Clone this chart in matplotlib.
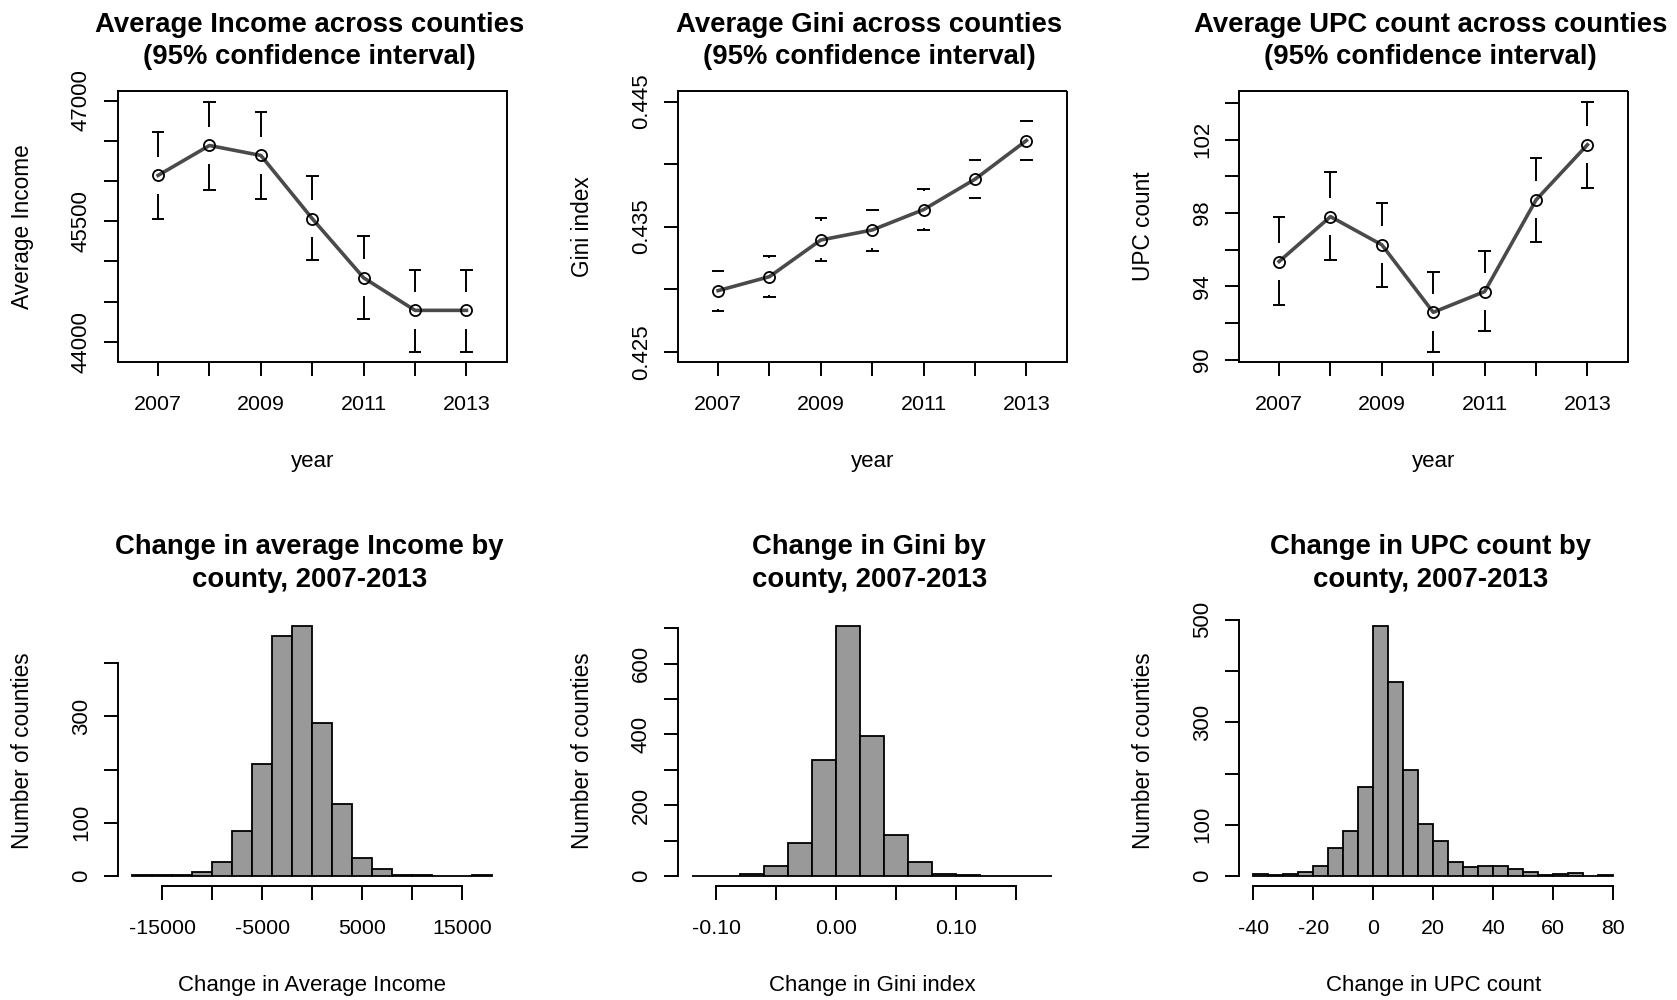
import numpy as np
import matplotlib
matplotlib.use("Agg")
import matplotlib.pyplot as plt
from matplotlib.ticker import FixedLocator, FixedFormatter

plt.rcParams['font.family'] = ['Liberation Sans', 'DejaVu Sans']

# ---------------- data ----------------
years = [2007, 2008, 2009, 2010, 2011, 2012, 2013]

income_mean = [46069, 46441, 46317, 45531, 44795, 44390, 44390]
income_lo = [45523, 45891, 45779, 45014, 44281, 43876, 43876]
income_hi = [46607, 46988, 46863, 46057, 45316, 44898, 44898]

gini_mean = [0.42988, 0.43100, 0.43393, 0.43473, 0.43636, 0.43879, 0.44188]
gini_lo = [0.42823, 0.42935, 0.43228, 0.43308, 0.43476, 0.43727, 0.44036]
gini_hi = [0.43148, 0.43263, 0.43567, 0.43636, 0.43801, 0.44036, 0.44348]

upc_mean = [95.36, 97.81, 96.27, 92.59, 93.72, 98.72, 101.73]
upc_lo = [93.01, 95.45, 93.99, 90.44, 91.56, 96.43, 99.38]
upc_hi = [97.78, 100.23, 98.54, 94.81, 95.94, 101.02, 104.09]

income_edges = list(range(-18000, 18001, 2000))
income_counts = [1, 1, 1, 7, 27, 85, 210, 452, 470, 288, 135, 34, 13, 1, 1, 0, 0, 1]

gini_edges = [-0.12, -0.10, -0.08, -0.06, -0.04, -0.02, 0.00, 0.02, 0.04,
              0.06, 0.08, 0.10, 0.12, 0.14, 0.16, 0.18]
gini_counts = [1, 0, 5, 29, 94, 328, 706, 396, 116, 39, 5, 3, 0, 0, 1]

upc_edges = list(range(-40, 81, 5))
upc_counts = [4, 2, 3, 8, 20, 55, 88, 173, 488, 378, 207, 101, 68, 28, 17,
              20, 20, 13, 8, 2, 3, 5, 0, 1]

# tick positions / labels
year_ticks = years
year_labels = ["2007", "", "2009", "", "2011", "", "2013"]
income_yticks = [44000, 44500, 45000, 45500, 46000, 46500, 47000]
income_ylabels = ["44000", "", "", "45500", "", "", "47000"]
gini_yticks = [0.425, 0.430, 0.435, 0.440, 0.445]
gini_ylabels = ["0.425", "", "0.435", "", "0.445"]
gini_ylim = (0.425, 0.445)
upc_yticks = [90, 92, 94, 96, 98, 100, 102, 104]
upc_ylabels = ["90", "", "94", "", "98", "", "102", ""]

inc_hx_ticks = [-15000, -10000, -5000, 0, 5000, 10000, 15000]
inc_hx_labels = ["-15000", "", "-5000", "", "5000", "", "15000"]
inc_hy_ticks = [0, 100, 200, 300, 400]
inc_hy_labels = ["0", "100", "", "300", ""]
gini_hx_ticks = [-0.10, -0.05, 0.00, 0.05, 0.10, 0.15]
gini_hx_labels = ["-0.10", "", "0.00", "", "0.10", ""]
gini_hy_ticks = [0, 100, 200, 300, 400, 500, 600, 700]
gini_hy_labels = ["0", "", "200", "", "400", "", "600", ""]
upc_hx_ticks = [-40, -20, 0, 20, 40, 60, 80]
upc_hx_labels = ["-40", "-20", "0", "20", "40", "60", "80"]
upc_hy_ticks = [0, 100, 200, 300, 400, 500]
upc_hy_labels = ["0", "100", "", "300", "", "500"]

# ---------------- layout ----------------
W, H, DPI = 1677, 1000, 100
fig = plt.figure(figsize=(W / DPI, H / DPI), dpi=DPI)
fig.patch.set_facecolor("white")

COL_LEFT = [118.0, 678.0, 1239.0]
AX_W = 388.5
TOP_Y, TOP_H = 91.5, 270.2
BOT_Y, BOT_H = 616.0, 270.0

XT_SIZE = 15.4
YT_SIZE = 16.0
XL_SIZE = 16.0
YL_SIZE = 16.3
TITLE_SIZE = 19.8
LW = 1.4
TICK_LEN = 9.8


def px_axes(left, top, width, height):
    return fig.add_axes([left / W, 1 - (top + height) / H, width / W, height / H])


def r_expand(lo, hi):
    d = (hi - lo) * 0.04
    return lo - d, hi + d


def style_ticks(ax, xt, xl, yt, yl):
    ax.xaxis.set_major_locator(FixedLocator(xt))
    ax.xaxis.set_major_formatter(FixedFormatter(xl))
    ax.yaxis.set_major_locator(FixedLocator(yt))
    ax.yaxis.set_major_formatter(FixedFormatter(yl))
    ax.tick_params(direction="out", length=TICK_LEN, width=LW, color="black")
    ax.tick_params(axis="x", labelsize=XT_SIZE, pad=14.2)
    ax.tick_params(axis="y", labelsize=YT_SIZE, pad=9.0, labelrotation=90)
    for lab in ax.get_yticklabels():
        lab.set_va("center")


def ci_panel(col, mean, lo, hi, ylim, yt, yl):
    ax = px_axes(COL_LEFT[col], TOP_Y, AX_W, TOP_H)
    xlim = r_expand(2006.5, 2013.5)
    ax.set_xlim(*xlim)
    ax.set_ylim(*ylim)
    gap = 18.5 / TOP_H * (ylim[1] - ylim[0])
    cap = 6.3 / AX_W * (xlim[1] - xlim[0])
    m = np.array(mean)
    l = np.array(lo)
    h = np.array(hi)
    x = np.array(years)
    ax.vlines(x, l, np.maximum(m - gap, l), color="black", lw=LW)
    ax.vlines(x, np.minimum(m + gap, h), h, color="black", lw=LW)
    ax.hlines(l, x - cap, x + cap, color="black", lw=LW)
    ax.hlines(h, x - cap, x + cap, color="black", lw=LW)
    ax.plot(x, m, color="#4a4a4a", lw=2.6, zorder=3)
    ax.plot(x, m, "o", ms=8.0, mfc="none", mec="black", mew=1.3, zorder=4)
    for s in ax.spines.values():
        s.set_linewidth(LW)
    style_ticks(ax, year_ticks, year_labels, yt, yl)
    return ax


def hist_panel(col, edges, counts, xt, xl, yt, yl):
    ax = px_axes(COL_LEFT[col], BOT_Y, AX_W, BOT_H)
    e = np.array(edges, dtype=float)
    c = np.array(counts, dtype=float)
    ax.bar(e[:-1], c, width=np.diff(e), align="edge", color="#999999",
           edgecolor="black", linewidth=1.3)
    ax.set_xlim(*r_expand(e[0], e[-1]))
    ax.set_ylim(*r_expand(0, c.max()))
    ax.spines["top"].set_visible(False)
    ax.spines["right"].set_visible(False)
    ax.spines["left"].set_bounds(yt[0], yt[-1])
    ax.spines["bottom"].set_bounds(xt[0], xt[-1])
    ax.spines["left"].set_linewidth(LW)
    ax.spines["bottom"].set_linewidth(LW)
    style_ticks(ax, xt, xl, yt, yl)
    return ax


ci_panel(0, income_mean, income_lo, income_hi,
         r_expand(min(income_lo), max(income_hi)), income_yticks, income_ylabels)
ci_panel(1, gini_mean, gini_lo, gini_hi,
         r_expand(*gini_ylim), gini_yticks, gini_ylabels)
ci_panel(2, upc_mean, upc_lo, upc_hi,
         r_expand(min(upc_lo), max(upc_hi)), upc_yticks, upc_ylabels)

hist_panel(0, income_edges, income_counts, inc_hx_ticks, inc_hx_labels,
           inc_hy_ticks, inc_hy_labels)
hist_panel(1, gini_edges, gini_counts, gini_hx_ticks, gini_hx_labels,
           gini_hy_ticks, gini_hy_labels)
hist_panel(2, upc_edges, upc_counts, upc_hx_ticks, upc_hx_labels,
           upc_hy_ticks, upc_hy_labels)

# ---------------- texts ----------------
top_titles = [("Average Income across counties", "(95% confidence interval)"),
              ("Average Gini across counties", "(95% confidence interval)"),
              ("Average UPC count across counties", "(95% confidence interval)")]
bot_titles = [("Change in average Income by", "county, 2007-2013"),
              ("Change in Gini by", "county, 2007-2013"),
              ("Change in UPC count by", "county, 2007-2013")]
top_ylabels = ["Average Income", "Gini index", "UPC count"]
top_xlabels = ["year", "year", "year"]
bot_ylabels = ["Number of counties"] * 3
bot_xlabels = ["Change in Average Income", "Change in Gini index", "Change in UPC count"]


def ftext(xpx, ypx, s, **kw):
    fig.text(xpx / W, 1 - ypx / H, s, **kw)


for i in range(3):
    cx = COL_LEFT[i] + AX_W / 2
    tx = cx - 3
    ftext(tx, 31.7, top_titles[i][0], ha="center", va="baseline",
          fontsize=TITLE_SIZE, fontweight="bold")
    ftext(tx, 64.2, top_titles[i][1], ha="center", va="baseline",
          fontsize=TITLE_SIZE, fontweight="bold")
    ftext(tx, 554.0, bot_titles[i][0], ha="center", va="baseline",
          fontsize=TITLE_SIZE, fontweight="bold")
    ftext(tx, 586.7, bot_titles[i][1], ha="center", va="baseline",
          fontsize=TITLE_SIZE, fontweight="bold")
    ftext(cx, TOP_Y + TOP_H + 105, top_xlabels[i], ha="center", va="baseline",
          fontsize=XL_SIZE)
    ftext(cx, BOT_Y + BOT_H + 104.7, bot_xlabels[i], ha="center", va="baseline",
          fontsize=XL_SIZE)
    ftext(COL_LEFT[i] - 95.8, TOP_Y + TOP_H / 2, top_ylabels[i], ha="center",
          va="center", rotation=90, fontsize=YL_SIZE)
    ftext(COL_LEFT[i] - 95.8, BOT_Y + BOT_H / 2, bot_ylabels[i], ha="center",
          va="center", rotation=90, fontsize=YL_SIZE)

fig.savefig("out.png", dpi=DPI)
